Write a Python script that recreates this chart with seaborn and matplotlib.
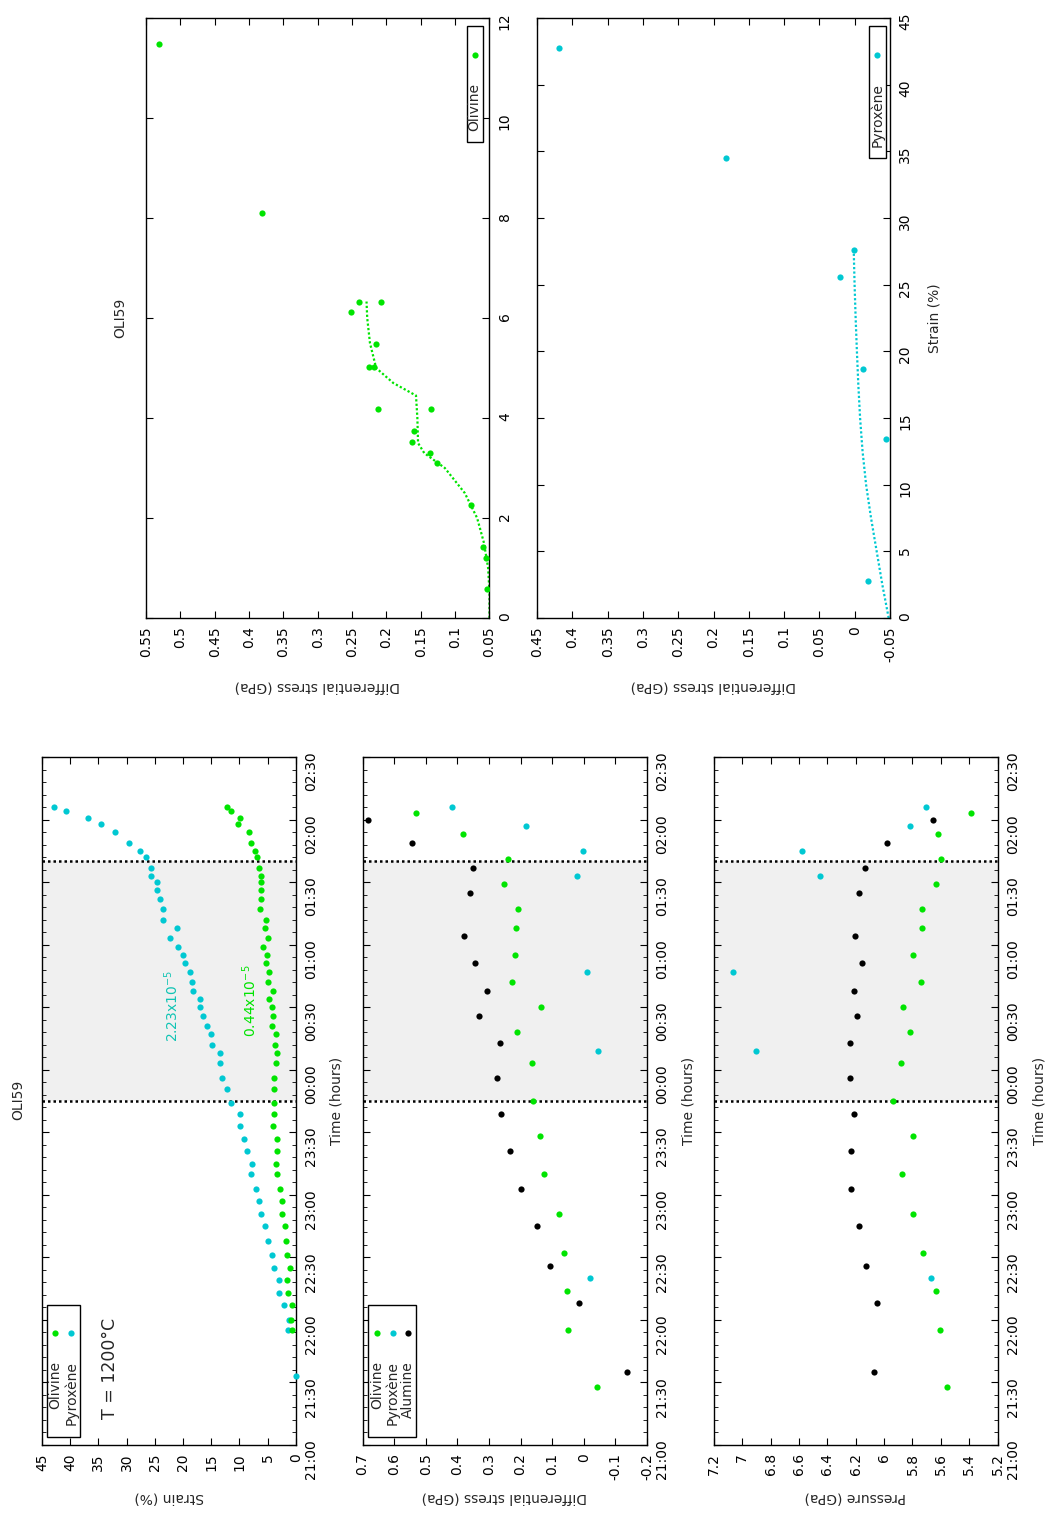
import seaborn as sns
import matplotlib.pyplot as plt
from matplotlib.patches import Rectangle
from matplotlib.ticker import MultipleLocator, FuncFormatter

# --- strain vs time (olivine / pyroxene) ---
strain_times = ["21:33", "21:55", "22:00", "22:07", "22:13", "22:19", "22:25", "22:31", "22:38",
                "22:45", "22:51", "22:57", "23:03", "23:10", "23:15", "23:21", "23:27", "23:33",
                "23:39", "23:44", "23:51", "23:56", "00:03", "00:08", "00:12", "00:17", "00:21",
                "00:26", "00:30", "00:34", "00:38", "00:42", "00:47", "00:51", "00:55", "00:59",
                "01:03", "01:08", "01:12", "01:17", "01:22", "01:26", "01:30", "01:33", "01:37",
                "01:42", "01:45", "01:49", "01:54", "01:58", "02:01", "02:04", "02:06"]
strain_olivine = [None, 0.71, 0.95, 0.77, 1.36, 1.65, 1.06, 1.65, 1.77, 1.89, 2.42, 2.42, 2.83,
                  3.31, 3.60, 3.31, 3.43, 4.13, 3.90, 3.90, 3.87, 3.90, 3.54, 3.43, 3.66, 3.60,
                  4.19, 4.13, 4.31, 4.72, 4.13, 4.90, 4.72, 5.37, 5.08, 5.79, 5.02, 5.55, 5.37,
                  6.38, 6.26, 6.20, 6.20, 6.20, 6.50, 6.85, 7.26, 8.03, 8.27, 10.22, 9.92, 11.57,
                  12.28]
strain_pyroxene = [0.06, 1.48, 1.30, 2.13, 3.07, 3.07, 3.90, 4.31, 4.90, 5.55, 6.26, 6.62, 7.09,
                   8.03, 7.86, 8.62, 9.21, 9.92, 9.92, 11.52, 12.17, 13.17, 13.47, 13.52, 14.82,
                   15.00, 15.71, 16.54, 17.01, 17.01, 18.19, 18.37, 18.78, 19.67, 19.96, 20.96,
                   22.3, 21.0, 23.6, 23.6, 24.0, 24.7, 24.7, 25.6, 25.6, 26.6, 27.6, 29.6, 32.0,
                   34.6, 36.8, 40.8, 42.8]

# --- diffraction: stress and pressure vs time ---
oli_times = ["21:28", "21:55", "22:14", "22:32", "22:51", "23:10", "23:28", "23:45", "00:03",
             "00:18", "00:30", "00:42", "00:55", "01:08", "01:17", "01:29", "01:41", "01:53", "02:03"]
oli_stress = [-0.043, 0.050, 0.054, 0.061, 0.078, 0.127, 0.138, 0.161, 0.164, 0.210, 0.134,
              0.227, 0.218, 0.214, 0.207, 0.251, 0.240, 0.381, 0.531]
oli_pressure = [5.558, 5.608, 5.636, 5.725, 5.794, 5.876, 5.794, 5.935, 5.883, 5.817, 5.867,
                5.742, 5.794, 5.732, 5.732, 5.636, 5.600, 5.617, 5.386]

pyx_times = ["22:20", "00:09", "00:47", "01:33", "01:45", "01:57", "02:06"]
pyx_stress = [-0.020, -0.044, -0.010, 0.020, 0.003, 0.183, 0.417]
pyx_pressure = [5.669, 6.903, 7.066, 6.449, 6.576, 5.817, 5.704]

alu_times = ["21:35", "22:08", "22:26", "22:45", "23:03", "23:21", "23:39", "23:56", "00:13",
             "00:26", "00:38", "00:51", "01:04", "01:25", "01:37", "01:49", "02:00"]
alu_stress = [-0.137, 0.015, 0.108, 0.148, 0.198, 0.234, 0.262, 0.274, 0.265, 0.330, 0.307,
              0.344, 0.378, 0.361, 0.349, 0.542, 0.684]
alu_pressure = [6.069, 6.053, 6.128, 6.178, 6.232, 6.232, 6.211, 6.239, 6.241, 6.194, 6.211,
                6.159, 6.204, 6.178, 6.138, 5.980, 5.657]

steady_window = ["23:45", "01:40"]

# --- stress vs strain ---
d_oli_strain = [0.58, 1.21, 1.43, 2.27, 3.10, 3.30, 3.52, 3.75, 4.18, 4.18, 5.02, 5.02, 5.48,
                6.13, 6.33, 6.33, 8.10, 11.49]
d_oli_stress = [0.053, 0.055, 0.060, 0.077, 0.126, 0.136, 0.163, 0.160, 0.135, 0.212, 0.226,
                0.218, 0.215, 0.252, 0.240, 0.208, 0.381, 0.531]
fit_oli_strain = [0, 0.5, 1.0, 1.5, 2.0, 2.5, 3.0, 3.3, 3.5, 4.0, 4.45, 4.7, 5.0, 5.5, 6.0, 6.33]
fit_oli_stress = [0.050, 0.050, 0.052, 0.058, 0.068, 0.086, 0.115, 0.145, 0.154, 0.155, 0.157,
                  0.190, 0.215, 0.224, 0.228, 0.229]

e_pyx_strain = [2.78, 13.42, 18.67, 25.59, 27.57, 34.53, 42.72]
e_pyx_stress = [-0.019, -0.044, -0.012, 0.021, 0.001, 0.182, 0.419]
fit_pyx_strain = [0, 2.5, 5, 7.5, 10, 12.5, 15, 17.5, 20, 22.5, 25, 27.6]
fit_pyx_stress = [-0.048, -0.039, -0.031, -0.023, -0.016, -0.011, -0.0075, -0.005, -0.003,
                  -0.0012, 0.0003, 0.0015]

GREEN = '#00e400'
CYAN = '#00c8d2'
BLACK = '#000000'
FS = 10


def hours(s):
    h, m = map(int, s.split(':'))
    return ((h - 21) % 24) + m / 60


def clock(v, pos):
    m = int(round(v * 60)) + 21 * 60
    return "%02d:%02d" % ((m // 60) % 24, m % 60)


sns.set_style('ticks')
plt.rcParams['font.family'] = ['DejaVu Sans']
plt.rcParams['axes.unicode_minus'] = False
plt.rcParams['axes.linewidth'] = 1.0

fig = plt.figure(figsize=(10.52, 15.17), dpi=100)


def frame(ax, xlim):
    ax.tick_params(axis='both', which='both', direction='in', top=True, right=True,
                   labelsize=FS, labelcolor='black', color='black')
    ax.tick_params(axis='both', which='major', length=5)
    ax.tick_params(axis='both', which='minor', length=3)
    ax.tick_params(axis='x', labelrotation=90, pad=6)
    ax.tick_params(axis='y', labelrotation=90, labelleft=False, labelright=True, pad=6)
    for sp in ax.spines.values():
        sp.set_color('black')
        sp.set_linewidth(1.0)
    ax.set_xlim(*xlim)


def key(ax, entries, box, xs, mark_y, text_top):
    x0, x1, y0, y1 = box
    ax.add_patch(Rectangle((x0, y0), x1 - x0, y1 - y0, transform=ax.transAxes,
                           facecolor='white', edgecolor='black', lw=1.0, zorder=5))
    for (name, col), x in zip(entries, xs):
        ax.scatter([x], [mark_y], transform=ax.transAxes, s=20, color=col, lw=0, zorder=6)
        ax.text(x, text_top, name, transform=ax.transAxes, rotation=90, ha='center',
                va='top', fontsize=FS, zorder=6)


def time_panel(rect, xlim, xstep, xlabel, label_x):
    ax = fig.add_axes(rect)
    t0, t1 = hours(steady_window[0]), hours(steady_window[1])
    ax.axhspan(t0, t1, color='#f0f0f0', zorder=0, lw=0)
    for t in (t0, t1):
        ax.axhline(t, color='black', ls=(0, (1, 1.2)), lw=1.8, zorder=1)
    frame(ax, xlim)
    ax.set_ylim(0, 5.5)
    ax.yaxis.set_major_locator(MultipleLocator(0.5))
    ax.yaxis.set_minor_locator(MultipleLocator(0.1))
    ax.yaxis.set_major_formatter(FuncFormatter(clock))
    ax.xaxis.set_major_locator(MultipleLocator(xstep))
    ax.xaxis.set_major_formatter(FuncFormatter(lambda v, p: '%g' % round(v, 3)))
    ax.set_xlabel(xlabel, rotation=180, fontsize=FS)
    ax.xaxis.set_label_coords(0.5, -0.066)
    ax.yaxis.set_label_position('right')
    ax.set_ylabel('Time (hours)', fontsize=FS)
    ax.yaxis.set_label_coords(label_x, 0.5)
    return ax


# Panel A : strain vs time
axA = time_panel([0.0399, 0.04746, 0.2414, 0.4535], (45, 0), 5, 'Strain (%)', 1.134)
tA = [hours(s) for s in strain_times]
sns.scatterplot(x=strain_pyroxene, y=tA, color=CYAN, s=20, linewidth=0, ax=axA, zorder=3,
                clip_on=False)
sns.scatterplot(x=[v for v in strain_olivine if v is not None],
                y=[t for t, v in zip(tA, strain_olivine) if v is not None],
                color=GREEN, s=20, linewidth=0, ax=axA, zorder=3)
axA.text(0.512, 0.638, r'2.23x10$^{-5}$', transform=axA.transAxes, rotation=90,
         ha='center', va='center', color='#10c4b4', fontsize=FS)
axA.text(0.819, 0.645, r'0.44x10$^{-5}$', transform=axA.transAxes, rotation=90,
         ha='center', va='center', color=GREEN, fontsize=FS)
axA.text(0.268, 0.112, 'T = 1200°C', transform=axA.transAxes, rotation=90,
         ha='center', va='center', fontsize=12.5)
key(axA, [('Olivine', GREEN), ('Pyroxène', CYAN)], (0.020, 0.150, 0.0116, 0.2035),
    [0.053, 0.116], 0.1628, 0.122)

# Panel B : differential stress vs time
axB = time_panel([0.3446, 0.04746, 0.2704, 0.4535], (0.7, -0.2), 0.1,
                 'Differential stress (GPa)', 1.123)
for tt, vv, col in [(oli_times, oli_stress, GREEN), (pyx_times, pyx_stress, CYAN),
                    (alu_times, alu_stress, BLACK)]:
    sns.scatterplot(x=vv, y=[hours(s) for s in tt], color=col, s=20, linewidth=0,
                    ax=axB, zorder=3)
key(axB, [('Olivine', GREEN), ('Pyroxène', CYAN), ('Alumine', BLACK)],
    (0.0204, 0.188, 0.0116, 0.2035), [0.051, 0.106, 0.161], 0.1628, 0.122)

# Panel C : pressure vs time
axC = time_panel([0.6787, 0.04746, 0.2695, 0.4535], (7.2, 5.2), 0.2, 'Pressure (GPa)', 1.125)
for tt, vv, col in [(oli_times, oli_pressure, GREEN), (pyx_times, pyx_pressure, CYAN),
                    (alu_times, alu_pressure, BLACK)]:
    sns.scatterplot(x=vv, y=[hours(s) for s in tt], color=col, s=20, linewidth=0,
                    ax=axC, zorder=3)

fig.text(18 / 1052, 1 - 1100 / 1517, 'OLI59', rotation=90, ha='center', va='center', fontsize=FS)

# Panel D : olivine stress vs strain
axD = fig.add_axes([0.1388, 0.5926, 0.3265, 0.3955])
frame(axD, (0.55, 0.05))
axD.set_ylim(0, 12)
axD.yaxis.set_major_locator(MultipleLocator(2))
axD.xaxis.set_major_locator(MultipleLocator(0.05))
axD.xaxis.set_major_formatter(FuncFormatter(lambda v, p: '%g' % round(v, 3)))
sns.lineplot(x=fit_oli_stress, y=fit_oli_strain, sort=False, estimator=None, color=GREEN,
             ls=(0, (1, 1)), lw=1.6, ax=axD)
sns.scatterplot(x=d_oli_stress, y=d_oli_strain, color=GREEN, s=20, linewidth=0, ax=axD, zorder=3)
axD.set_xlabel('Differential stress (GPa)', rotation=180, fontsize=FS)
axD.xaxis.set_label_coords(0.5, -0.102)
axD.set_ylabel('')
key(axD, [('Olivine', GREEN)], (0.934, 0.980, 0.793, 0.987), [0.957], 0.939, 0.892)

# Panel E : pyroxene stress vs strain
axE = fig.add_axes([0.5105, 0.5926, 0.3356, 0.3955])
frame(axE, (0.45, -0.05))
axE.set_ylim(0, 45)
axE.yaxis.set_major_locator(MultipleLocator(5))
axE.xaxis.set_major_locator(MultipleLocator(0.05))
axE.xaxis.set_major_formatter(FuncFormatter(lambda v, p: '%g' % round(v, 3)))
sns.lineplot(x=fit_pyx_stress, y=fit_pyx_strain, sort=False, estimator=None, color=CYAN,
             ls=(0, (1, 1)), lw=1.6, ax=axE)
sns.scatterplot(x=e_pyx_stress, y=e_pyx_strain, color=CYAN, s=20, linewidth=0, ax=axE, zorder=3)
axE.set_xlabel('Differential stress (GPa)', rotation=180, fontsize=FS)
axE.xaxis.set_label_coords(0.5, -0.102)
axE.yaxis.set_label_position('right')
axE.set_ylabel('Strain (%)', fontsize=FS)
axE.yaxis.set_label_coords(1.107, 0.5)
key(axE, [('Pyroxène', CYAN)], (0.941, 0.987, 0.766, 0.987), [0.963], 0.939, 0.892)

fig.text(120 / 1052, 1 - 318 / 1517, 'OLI59', rotation=90, ha='center', va='center', fontsize=FS)

fig.savefig('out.png', dpi=100, facecolor='white')
